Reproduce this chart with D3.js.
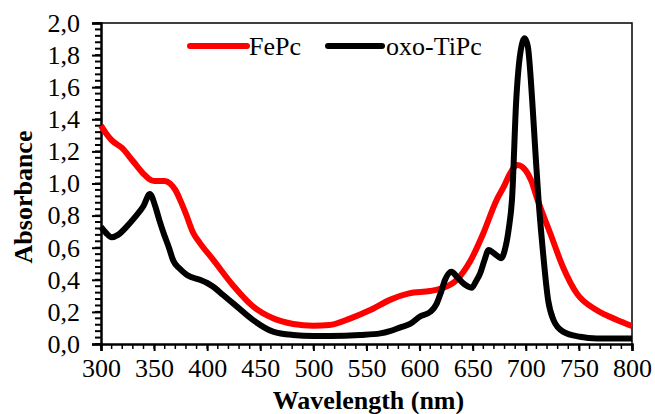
<!DOCTYPE html>
<html>
<head>
<meta charset="utf-8">
<script src="https://cdn.jsdelivr.net/npm/d3@7"></script>
<style>
  html, body { margin: 0; padding: 0; background: #fff; }
  svg { display: block; }
  svg text { font-family: 'Liberation Serif', Tinos, 'Times New Roman', 'DejaVu Serif', serif !important; fill: #000; }
</style>
</head>
<body>
<svg id="chart" width="655" height="414" font-family="Liberation Serif"></svg>
<script>
// Absorption spectra: wavelength (nm) and absorbance
const fepcWavelength = [300, 305, 310, 320, 330, 340, 345, 350, 360, 365, 370, 375, 380, 387, 393, 405, 425, 443, 462, 481, 500, 515, 535, 553, 572, 590, 610, 620, 635, 648, 660, 672, 680, 685, 692, 700, 705, 711, 723, 735, 748, 767, 786, 800];
const fepcAbsorbance = [1.36, 1.31, 1.27, 1.22, 1.14, 1.06, 1.03, 1.015, 1.015, 1.0, 0.96, 0.89, 0.81, 0.69, 0.63, 0.53, 0.36, 0.235, 0.16, 0.125, 0.114, 0.118, 0.16, 0.21, 0.275, 0.315, 0.33, 0.345, 0.40, 0.52, 0.69, 0.89, 0.99, 1.06, 1.115, 1.08, 1.02, 0.90, 0.69, 0.48, 0.315, 0.21, 0.15, 0.112];

const tipcWavelength = [300, 305, 310, 316, 324, 332, 340, 346, 351, 355, 359, 364, 368, 374, 381, 393, 400, 406, 415, 425, 443, 462, 481, 500, 516, 544, 563, 572, 582, 591, 600, 610, 616, 620, 624, 630, 635, 640, 645, 649, 653, 657, 661, 665, 669, 673, 677, 680, 684, 687, 691, 695, 699, 702, 706, 709, 712, 716, 721, 726, 735, 751, 767, 800];
const tipcAbsorbance = [0.73, 0.69, 0.665, 0.68, 0.73, 0.79, 0.86, 0.935, 0.86, 0.77, 0.69, 0.60, 0.52, 0.47, 0.43, 0.40, 0.38, 0.355, 0.305, 0.25, 0.15, 0.077, 0.056, 0.05, 0.05, 0.056, 0.066, 0.08, 0.104, 0.125, 0.17, 0.20, 0.25, 0.32, 0.40, 0.45, 0.42, 0.385, 0.36, 0.35, 0.39, 0.44, 0.52, 0.585, 0.57, 0.55, 0.535, 0.58, 0.72, 0.9, 1.52, 1.82, 1.905, 1.85, 1.52, 1.20, 0.897, 0.586, 0.274, 0.15, 0.077, 0.045, 0.035, 0.035];

const seriesNames = ["FePc", "oxo-TiPc"];
const seriesColors = ["#ff0000", "#000000"];
const xTicks = [300, 350, 400, 450, 500, 550, 600, 650, 700, 750, 800];
const yTicks = [0, 0.2, 0.4, 0.6, 0.8, 1.0, 1.2, 1.4, 1.6, 1.8, 2.0];

const FONT = "'Liberation Serif', Tinos, 'Times New Roman', 'DejaVu Serif', serif";

const svg = d3.select("#chart");
const plot = { left: 101, top: 23, right: 632, bottom: 344 };

const x = d3.scaleLinear().domain([300, 800]).range([plot.left, plot.right]);
const y = d3.scaleLinear().domain([0, 2]).range([plot.bottom, plot.top]);
const fmt = v => d3.format(".1f")(v).replace(".", ",");

// frame: thin top/right border
svg.append("path")
  .attr("d", `M${plot.left},${plot.top}H${plot.right}V${plot.bottom}`)
  .attr("fill", "none").attr("stroke", "#000").attr("stroke-width", 1.5);

// minor ticks
const yMinor = d3.range(0, 2.0001, 0.04);
svg.append("g").selectAll("line").data(yMinor).join("line")
  .attr("x1", plot.left - 6).attr("x2", plot.left)
  .attr("y1", d => y(d)).attr("y2", d => y(d))
  .attr("stroke", "#000").attr("stroke-width", 2);
const xMinor = d3.range(300, 801, 10);
svg.append("g").selectAll("line").data(xMinor).join("line")
  .attr("x1", d => x(d)).attr("x2", d => x(d))
  .attr("y1", plot.bottom).attr("y2", plot.bottom + 5)
  .attr("stroke", "#000").attr("stroke-width", 1.5);

// y axis
const yAxis = svg.append("g")
  .attr("transform", `translate(${plot.left},0)`)
  .call(d3.axisLeft(y).tickValues(yTicks).tickFormat(fmt).tickSize(9).tickPadding(12));
yAxis.attr("font-family", FONT).attr("font-size", 26);
yAxis.select(".domain").attr("stroke-width", 2.5);
yAxis.selectAll(".tick line").attr("stroke-width", 2);

// x axis
const xAxis = svg.append("g")
  .attr("transform", `translate(0,${plot.bottom})`)
  .call(d3.axisBottom(x).tickValues(xTicks).tickSize(7).tickPadding(8));
xAxis.attr("font-family", FONT).attr("font-size", 26);
xAxis.select(".domain").attr("stroke-width", 2.5);
xAxis.selectAll(".tick line").attr("stroke-width", 2);

// spectra
const line = d3.line()
  .x(d => x(d[0])).y(d => y(d[1]))
  .curve(d3.curveMonotoneX);

const series = [
  d3.zip(fepcWavelength, fepcAbsorbance),
  d3.zip(tipcWavelength, tipcAbsorbance)
];
series.forEach((pts, i) => {
  svg.append("path")
    .datum(pts)
    .attr("d", line)
    .attr("fill", "none")
    .attr("stroke", seriesColors[i])
    .attr("stroke-width", 6)
    .attr("stroke-linejoin", "round")
    .attr("stroke-linecap", "butt");
});

// legend
const legendItems = [
  { x1: 190, x2: 247, tx: 249 },
  { x1: 328, x2: 382, tx: 386 }
];
legendItems.forEach((it, i) => {
  svg.append("line")
    .attr("x1", it.x1).attr("x2", it.x2).attr("y1", 46).attr("y2", 46)
    .attr("stroke", seriesColors[i]).attr("stroke-width", 6).attr("stroke-linecap", "round");
  svg.append("text")
    .attr("x", it.tx).attr("y", 55)
    .attr("font-family", FONT).attr("font-size", 26)
    .text(seriesNames[i]);
});

// axis titles
svg.append("text")
  .attr("x", (plot.left + plot.right) / 2 + 2).attr("y", 409)
  .attr("text-anchor", "middle").attr("font-family", FONT)
  .attr("font-size", 26).attr("font-weight", "bold")
  .text("Wavelength (nm)");
svg.append("text")
  .attr("transform", "translate(32,197) rotate(-90)")
  .attr("text-anchor", "middle").attr("font-family", FONT)
  .attr("font-size", 26).attr("font-weight", "bold")
  .text("Absorbance");
</script>
</body>
</html>
